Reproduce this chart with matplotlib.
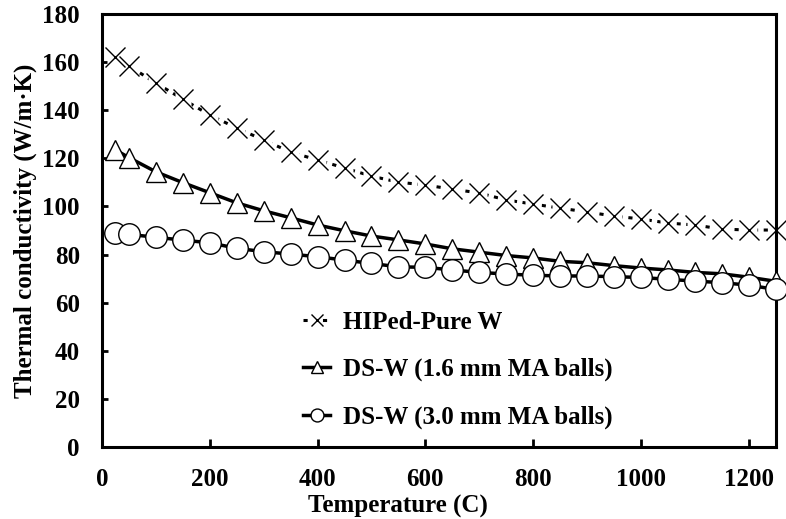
import matplotlib
matplotlib.use("Agg")
import matplotlib.pyplot as plt
from matplotlib.legend_handler import HandlerTuple

temperature = [25, 50, 100, 150, 200, 250, 300, 350, 400, 450, 500, 550, 600,
               650, 700, 750, 800, 850, 900, 950, 1000, 1050, 1100, 1150, 1200, 1250]
pure_w = [162.1, 158.4, 151.3, 144.6, 138.0, 132.6, 127.6, 122.6, 119.3, 116.0,
          112.6, 110.1, 108.9, 107.2, 105.6, 102.7, 101.0, 99.3, 97.7, 96.0,
          94.8, 93.1, 92.3, 90.6, 90.2, 90.2]
ds_w_16 = [123.5, 120.3, 114.4, 109.9, 105.7, 101.5, 98.2, 95.3, 92.3, 89.9,
           87.7, 86.1, 84.4, 82.4, 81.0, 79.6, 78.6, 77.2, 76.6, 75.4,
           74.4, 73.6, 72.6, 72.0, 70.6, 68.9]
ds_w_30 = [88.8, 88.4, 87.2, 86.0, 84.9, 82.6, 81.2, 80.2, 79.1, 77.7,
           76.3, 74.9, 74.7, 73.6, 72.6, 71.9, 71.4, 71.1, 71.1, 70.8,
           70.5, 69.7, 69.0, 68.3, 67.3, 65.5]
labels = ["HIPed-Pure W", "DS-W (1.6 mm MA balls)", "DS-W (3.0 mm MA balls)"]
xticks = [0, 200, 400, 600, 800, 1000, 1200]
yticks = [0, 20, 40, 60, 80, 100, 120, 140, 160, 180]

plt.rcParams['font.family'] = ['Liberation Serif', 'DejaVu Serif']
plt.rcParams['font.weight'] = 'bold'
plt.rcParams['lines.scale_dashes'] = False

fig = plt.figure(figsize=(7.86, 5.19), dpi=100)
ax = fig.add_axes([0.1298, 0.1387, 0.857, 0.8343])

# Pure W: dotted line, white backing under x markers (Excel-like), x markers
l_dash, = ax.plot(temperature, pure_w, color='black', linestyle=(0, (3, 4)),
                  linewidth=2.2, clip_on=False, zorder=2)
l_back, = ax.plot(temperature, pure_w, linestyle='none', marker='s', markersize=12,
                  markerfacecolor='white', markeredgecolor='none', clip_on=False, zorder=2.5)
l_x, = ax.plot(temperature, pure_w, linestyle='none', marker='x', markersize=15,
               markeredgewidth=1.0, color='black', clip_on=False, zorder=3)

l_tri, = ax.plot(temperature, ds_w_16, color='black', linestyle='-', linewidth=2.5,
                 marker='^', markersize=15, markerfacecolor='white', markeredgecolor='black',
                 markeredgewidth=1.0, clip_on=False, zorder=4)
l_cir, = ax.plot(temperature, ds_w_30, color='black', linestyle='-', linewidth=2.5,
                 marker='o', markersize=15.5, markerfacecolor='white', markeredgecolor='black',
                 markeredgewidth=1.0, clip_on=False, zorder=5)

ax.set_xlim(0, 1250)
ax.set_ylim(0, 180)
ax.set_xticks(xticks)
ax.set_yticks(yticks)
ax.tick_params(axis='x', direction='in', length=6, width=2, labelsize=18, pad=15)
ax.tick_params(axis='y', direction='in', length=4, width=2, labelsize=18, pad=16)
for lab in ax.get_xticklabels() + ax.get_yticklabels():
    lab.set_fontweight('bold')
for sp in ax.spines.values():
    sp.set_linewidth(2.2)

ax.set_xlabel("Temperature (C)", fontsize=18, fontweight='bold')
ax.xaxis.set_label_coords(0.44, -0.11)
ax.set_ylabel("Thermal conductivity (W/m\u00b7K)", fontsize=18, fontweight='bold')
ax.yaxis.set_label_coords(-0.097, 0.5)

leg = ax.legend(handles=[(l_dash, l_back, l_x), l_tri, l_cir], labels=labels,
                handler_map={tuple: HandlerTuple(ndivide=1)},
                loc='center left', bbox_to_anchor=(0.298, 0.178), frameon=False,
                prop={'family': 'Liberation Serif', 'weight': 'bold', 'size': 18},
                handlelength=1.1, handletextpad=0.5, labelspacing=0.98,
                markerscale=0.6, borderpad=0, borderaxespad=0)

fig.savefig("out.png", dpi=100)
